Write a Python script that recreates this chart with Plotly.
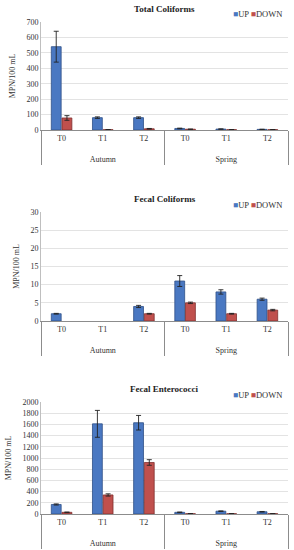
import plotly.graph_objects as go

seasons = ["Autumn", "Autumn", "Autumn", "Spring", "Spring", "Spring"]
times = ["T0", "T1", "T2", "T0", "T1", "T2"]

titles = ["Total Coliforms", "Fecal Coliforms", "Fecal Enterococci"]

tc_up = [540, 80, 80, 10, 6, 4]
tc_up_err = [100, 5, 5, 2, 1, 1]
tc_down = [78, 2, 8, 5, 2, 2]
tc_down_err = [15, 1, 2, 1, 0.5, 0.5]

fc_up = [2, None, 4, 11, 8, 6]
fc_up_err = [0.1, 0, 0.3, 1.5, 0.6, 0.3]
fc_down = [None, None, 2, 5, 2, 3]
fc_down_err = [0, 0, 0.1, 0.2, 0.1, 0.2]

fe_up = [170, 1610, 1630, 30, 50, 40]
fe_up_err = [10, 240, 130, 5, 5, 5]
fe_down = [30, 340, 920, 5, 5, 5]
fe_down_err = [5, 20, 50, 1, 1, 1]

y_ranges = [[0, 700], [0, 30], [0, 2000]]
y_dticks = [100, 5, 200]

UP_COLOR = "#4A78C2"
UP_LINE = "#2F4F86"
DOWN_COLOR = "#C0504D"
DOWN_LINE = "#7F2F2D"

FONT = "Liberation Serif"

H = 550
plot_px = [(22, 130), (212, 321), (402, 514)]
title_px = [9, 199, 389]
legend_px = [14, 205, 395]

series = [
    (tc_up, tc_up_err, tc_down, tc_down_err),
    (fc_up, fc_up_err, fc_down, fc_down_err),
    (fe_up, fe_up_err, fe_down, fe_down_err),
]

# group labels sit one blank line lower, as in the reference
season_labels = ["<br>" + s for s in seasons]

fig = go.Figure()
layout = {}
annotations = []
for i, (up, uperr, down, downerr) in enumerate(series):
    n = "" if i == 0 else str(i + 1)
    xa = "x" + n
    ya = "y" + n
    fig.add_trace(go.Bar(
        x=[season_labels, times], y=up, name="UP", xaxis=xa, yaxis=ya,
        marker=dict(color=UP_COLOR, line=dict(color=UP_LINE, width=0.8)),
        error_y=dict(type="data", array=uperr, color="#222222", thickness=0.9, width=2.5),
        showlegend=False, hoverinfo="y",
    ))
    fig.add_trace(go.Bar(
        x=[season_labels, times], y=down, name="DOWN", xaxis=xa, yaxis=ya,
        marker=dict(color=DOWN_COLOR, line=dict(color=DOWN_LINE, width=0.8)),
        error_y=dict(type="data", array=downerr, color="#222222", thickness=0.9, width=2.5),
        showlegend=False, hoverinfo="y",
    ))
    top, bot = plot_px[i]
    dom = [1 - bot / H, 1 - top / H]
    layout["xaxis" + n] = dict(
        domain=[0, 1], anchor=ya, type="multicategory", automargin=False,
        showline=True, linecolor="#8c8c8c", linewidth=1,
        showdividers=True, dividercolor="#8c8c8c", dividerwidth=1,
        tickfont=dict(family=FONT, size=8, color="#333333"),
        ticks="", showgrid=False,
    )
    layout["yaxis" + n] = dict(
        domain=dom, anchor=xa, range=y_ranges[i], dtick=y_dticks[i], automargin=False,
        showline=True, linecolor="#bfbfbf", linewidth=1,
        gridcolor="#e3e3e3", gridwidth=1, zeroline=False,
        tickfont=dict(family=FONT, size=8, color="#333333"),
        ticks="", ticklen=0,
        title=dict(text="MPN/100 mL", font=dict(family=FONT, size=8, color="#333333"), standoff=9),
    )
    annotations.append(dict(
        text="<b>" + titles[i] + "</b>", xref="paper", yref="paper",
        x=0.5, y=1 - title_px[i] / H, xanchor="center", yanchor="middle",
        showarrow=False, font=dict(family=FONT, size=9, color="#222222"),
    ))
    annotations.append(dict(
        text="<span style='color:%s'>■</span>UP <span style='color:%s'>■</span>DOWN" % (UP_COLOR, DOWN_COLOR),
        xref="paper", yref="paper", x=(231 - 41) / 247, y=1 - legend_px[i] / H,
        xanchor="left", yanchor="middle", showarrow=False,
        font=dict(family=FONT, size=8.5, color="#333333"),
    ))

fig.update_layout(
    width=294, height=550,
    margin=dict(l=41, r=6, t=0, b=0, autoexpand=False),
    paper_bgcolor="white", plot_bgcolor="white",
    barmode="group", bargap=0.48, bargroupgap=0.08,
    annotations=annotations,
    **layout,
)

fig.write_html(
    "out.html",
    config={"displayModeBar": False},
    post_script="document.body.style.margin='0';document.body.style.padding='0';document.body.style.overflow='hidden';",
)
